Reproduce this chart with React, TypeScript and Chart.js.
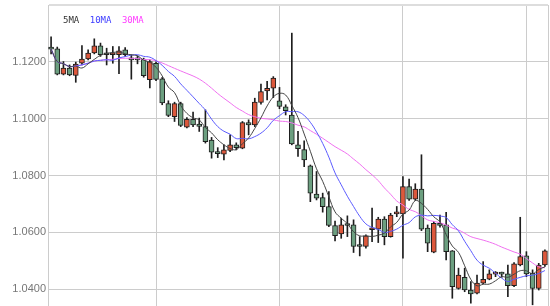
import { useEffect, useRef } from 'react';
import { Chart, registerables } from 'chart.js';

Chart.register(...registerables);

const opens = [
  1.1251, 1.1246, 1.1157, 1.1178, 1.1152, 1.1195, 1.1210, 1.1231, 1.1256, 1.1228,
  1.1225, 1.1225, 1.1242, 1.1213, 1.1208, 1.1210, 1.1137, 1.1195, 1.1140, 1.1053,
  1.1007, 1.1053, 1.0970, 1.0998, 1.0981, 1.0972, 1.0925, 1.0884, 1.0875, 1.0888,
  1.0908, 1.0896, 1.0986, 1.0978, 1.1057, 1.1098, 1.1107, 1.1063, 1.1042, 1.1013,
  1.0908, 1.0891, 1.0834, 1.0735, 1.0722, 1.0691, 1.0624, 1.0594, 1.0626, 1.0626,
  1.0552, 1.0550, 1.0609, 1.0611, 1.0647, 1.0585, 1.0665, 1.0665, 1.0761, 1.0717,
  1.0752, 1.0615, 1.0530, 1.0632, 1.0626, 1.0535, 1.0403, 1.0442, 1.0397, 1.0386,
  1.0421, 1.0435, 1.0453, 1.0455, 1.0454, 1.0412, 1.0485, 1.0517, 1.0456, 1.0403,
  1.0485,
];

const closes = [
  1.1245, 1.1157, 1.1178, 1.1154, 1.1192, 1.1210, 1.1231, 1.1256, 1.1225, 1.1225,
  1.1227, 1.1239, 1.1225, 1.1207, 1.1207, 1.1151, 1.1201, 1.1138, 1.1055, 1.1011,
  1.1053, 1.0976, 1.0998, 1.0978, 1.0973, 1.0919, 1.0882, 1.0877, 1.0890, 1.0908,
  1.0898, 1.0986, 1.0978, 1.1058, 1.1095, 1.1107, 1.1143, 1.1043, 1.1028, 1.0911,
  1.0894, 1.0855, 1.0738, 1.0720, 1.0690, 1.0624, 1.0588, 1.0626, 1.0624, 1.0550,
  1.0550, 1.0588, 1.0615, 1.0647, 1.0585, 1.0661, 1.0668, 1.0761, 1.0717, 1.0752,
  1.0611, 1.0562, 1.0632, 1.0624, 1.0532, 1.0409, 1.0450, 1.0397, 1.0383, 1.0421,
  1.0435, 1.0454, 1.0455, 1.0453, 1.0412, 1.0489, 1.0515, 1.0454, 1.0403, 1.0485,
  1.0535,
];

const highs = [
  1.1288, 1.1252, 1.1201, 1.1189, 1.1199, 1.1257, 1.1242, 1.1281, 1.1266, 1.1248,
  1.1254, 1.1254, 1.1250, 1.1225, 1.1221, 1.1213, 1.1207, 1.1200, 1.1145, 1.1063,
  1.1058, 1.1058, 1.1004, 1.1023, 1.1002, 1.1031, 1.0934, 1.0898, 1.0908, 1.0943,
  1.0915, 1.0990, 1.0996, 1.1072, 1.1122, 1.1131, 1.1148, 1.1110, 1.1049, 1.1301,
  1.0955, 1.0922, 1.0837, 1.0814, 1.0738, 1.0743, 1.0640, 1.0650, 1.0658, 1.0644,
  1.0585, 1.0591, 1.0685, 1.0653, 1.0655, 1.0667, 1.0691, 1.0796, 1.0787, 1.0771,
  1.0873, 1.0626, 1.0638, 1.0661, 1.0670, 1.0536, 1.0474, 1.0474, 1.0427, 1.0450,
  1.0497, 1.0468, 1.0462, 1.0460, 1.0485, 1.0494, 1.0653, 1.0532, 1.0468, 1.0491,
  1.0538,
];

const lows = [
  1.1228, 1.1154, 1.1154, 1.1151, 1.1128, 1.1189, 1.1207, 1.1228, 1.1219, 1.1189,
  1.1195, 1.1158, 1.1219, 1.1139, 1.1193, 1.1146, 1.1108, 1.1134, 1.1049, 1.1007,
  1.0990, 1.0972, 1.0967, 1.0972, 1.0955, 1.0914, 1.0861, 1.0863, 1.0855, 1.0884,
  1.0890, 1.0894, 1.0943, 1.0972, 1.1051, 1.1066, 1.1074, 1.1035, 1.1013, 1.0908,
  1.0867, 1.0831, 1.0708, 1.0714, 1.0671, 1.0620, 1.0570, 1.0579, 1.0585, 1.0529,
  1.0517, 1.0544, 1.0567, 1.0564, 1.0556, 1.0583, 1.0655, 1.0509, 1.0712, 1.0712,
  1.0606, 1.0532, 1.0528, 1.0618, 1.0503, 1.0368, 1.0400, 1.0391, 1.0351, 1.0383,
  1.0419, 1.0433, 1.0444, 1.0442, 1.0374, 1.0409, 1.0482, 1.0444, 1.0345, 1.0397,
  1.0480,
];

const categories = closes.map((_, i) => `${i + 1}`);

// window lengths that reproduce the three average lines of the reference
const maPeriods = [5, 10, 20];
const maLabels = ['5MA', '10MA', '30MA'];
const maColors = ['#444444', '#5a5aff', '#f070f0'];
const maTextColors = ['#333333', '#3c3cff', '#ff3cff'];

const yMin = 1.02;
const yMax = 1.14;
const yStep = 0.02;

function movingAverage(values: number[], n: number): number[] {
  return values.map((_, i) => {
    const start = Math.max(0, i - n + 1);
    const win = values.slice(start, i + 1);
    return win.reduce((a, b) => a + b, 0) / win.length;
  });
}

const legendPlugin = {
  id: 'maLegend',
  afterDatasetsDraw(chart: any) {
    const { ctx, chartArea } = chart;
    ctx.save();
    ctx.font = '9px "DejaVu Sans Mono", monospace';
    ctx.textBaseline = 'middle';
    let x = chartArea.left + 15;
    chart.data.datasets.forEach((ds: any) => {
      if (ds.type !== 'line') return;
      ctx.fillStyle = ds.legendColor || ds.borderColor;
      ctx.fillText(ds.label, x, 20.5);
      x += ctx.measureText(ds.label).width + 10.5;
    });
    ctx.restore();
  },
};

export default function App() {
  const ref = useRef<HTMLCanvasElement | null>(null);

  useEffect(() => {
    if (!ref.current) return;
    const up = (i: number) => closes[i] >= opens[i];
    const lineSets = maPeriods.map((p, k) => ({
      type: 'line' as const,
      label: maLabels[k],
      data: movingAverage(closes, p),
      borderColor: maColors[k],
      legendColor: maTextColors[k],
      borderWidth: 1,
      pointRadius: 0,
      tension: 0.4,
      fill: false,
      order: 0,
    }));
    const chart = new Chart(ref.current, {
      type: 'bar',
      data: {
        labels: categories,
        datasets: [
          ...lineSets,
          {
            type: 'bar',
            label: 'body',
            data: opens.map((o, i) => [o, closes[i]]) as any,
            backgroundColor: (c: any) => (up(c.dataIndex) ? '#dc583c' : '#6c9f80'),
            borderColor: '#1e1e1e',
            borderWidth: 1,
            borderSkipped: false,
            barThickness: 5,
            minBarLength: 2,
            grouped: false,
            order: 1,
          } as any,
          {
            type: 'bar',
            label: 'wick',
            data: lows.map((l, i) => [l, highs[i]]) as any,
            backgroundColor: '#1e1e1e',
            borderWidth: 0,
            barThickness: 1,
            grouped: false,
            order: 2,
          } as any,
        ],
      },
      options: {
        responsive: false,
        animation: false,
        devicePixelRatio: 1,
        layout: { padding: { top: 5, right: 2, bottom: 0, left: 0 } },
        plugins: { legend: { display: false }, tooltip: { enabled: false } },
        scales: {
          x: {
            type: 'category',
            offset: true,
            grid: {
              offset: false,
              drawTicks: false,
              color: (c: any) => (c.index % 20 === 17 ? '#cccccc' : 'rgba(0,0,0,0)'),
            },
            ticks: { display: false, autoSkip: false },
            border: { display: false },
            afterFit: (s: any) => {
              s.height = 0;
              s.paddingLeft = 0;
              s.paddingRight = 0;
            },
          },
          y: {
            min: yMin,
            max: yMax,
            ticks: {
              stepSize: yStep,
              padding: 2,
              color: '#777777',
              font: { family: '"Liberation Sans", Arial, sans-serif', size: 11 },
              callback: (v: any) => (Math.abs(Number(v) - yMax) < 1e-9 ? '' : Number(v).toFixed(4)),
            },
            grid: {
              drawTicks: false,
              color: (c: any) => (c.tick && Math.abs(c.tick.value - yMax) < 1e-9 ? '#dddddd' : '#cccccc'),
              lineWidth: (c: any) => (c.tick && Math.abs(c.tick.value - yMax) < 1e-9 ? 2 : 1),
            },
            border: { display: true, color: '#cccccc' },
            afterFit: (s: any) => {
              s.width = 48;
              s.paddingTop = 0;
              s.paddingBottom = 0;
            },
          },
          y2: {
            position: 'right',
            min: yMin,
            max: yMax,
            ticks: { display: false },
            grid: { display: false, drawTicks: false },
            border: { display: true, color: '#cccccc' },
            afterFit: (s: any) => {
              s.width = 0;
              s.paddingTop = 0;
              s.paddingBottom = 0;
            },
          },
        },
      } as any,
      plugins: [legendPlugin],
    });
    return () => chart.destroy();
  }, []);

  return (
    <div
      style={{
        position: 'fixed',
        left: 0,
        top: 0,
        width: 550,
        height: 306,
        overflow: 'hidden',
        background: '#ffffff',
      }}
    >
      <canvas ref={ref} width={550} height={346} style={{ display: 'block' }} />
    </div>
  );
}
